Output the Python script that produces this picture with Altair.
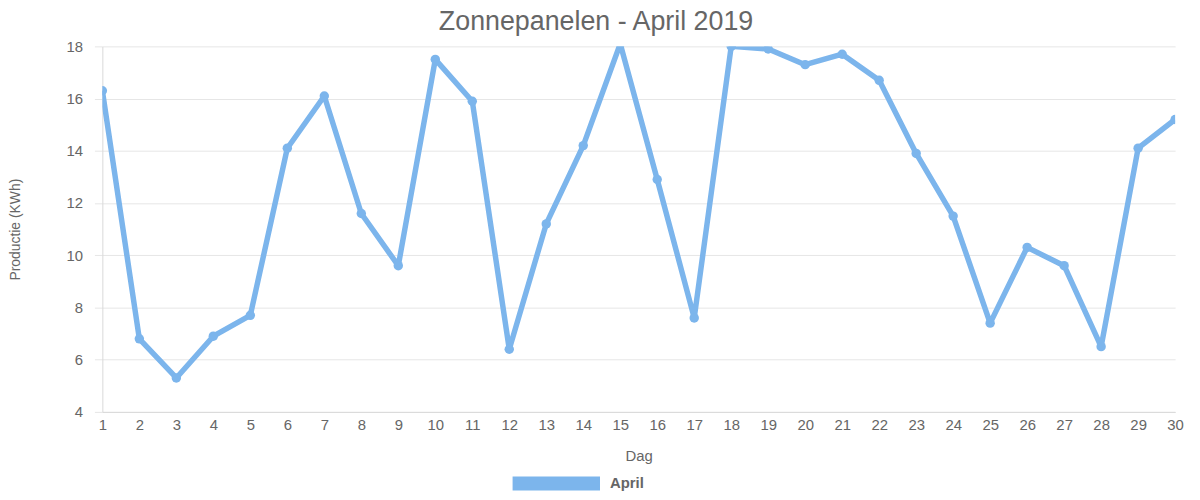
import altair as alt
import pandas as pd

days = list(range(1, 31))
production = [16.3, 6.8, 5.3, 6.9, 7.7, 14.1, 16.1, 11.6, 9.6, 17.5,
              15.9, 6.4, 11.2, 14.2, 18.1, 12.9, 7.6, 18.0, 17.9, 17.3,
              17.7, 16.7, 13.9, 11.5, 7.4, 10.3, 9.6, 6.5, 14.1, 15.2]
series = ["April"] * 30

df = pd.DataFrame({"Dag": days, "Productie": production, "Serie": series})

COLOR = "#7cb5ec"
GREY = "#666666"

x = alt.X("Dag:Q",
          scale=alt.Scale(domain=[1, 30], nice=False, zero=False),
          axis=alt.Axis(values=days, title="Dag", grid=False, labelFontSize=15,
                        labelColor=GREY, titleColor=GREY, titleFontSize=15,
                        titleFontWeight="normal", labelPadding=6, titlePadding=16,
                        tickSize=0, domainColor="#d9d9d9", labelFlush=False,
                        labelFont="Liberation Sans", titleFont="Liberation Sans"))
y = alt.Y("Productie:Q",
          scale=alt.Scale(domain=[4, 18], nice=False, zero=False),
          axis=alt.Axis(values=[4, 6, 8, 10, 12, 14, 16, 18], title="Productie (KWh)",
                        labelFontSize=15, labelColor=GREY, titleColor=GREY,
                        titleFontSize=14, titleFontWeight="normal", gridColor="#e6e6e6",
                        tickColor="#e6e6e6", tickSize=8, domainColor="#d9d9d9",
                        labelPadding=12, titlePadding=44, labelFlush=False,
                        labelFont="Liberation Sans", titleFont="Liberation Sans"))

color = alt.Color("Serie:N", scale=alt.Scale(range=[COLOR]),
                  legend=alt.Legend(title=None, orient="none", legendX=413, legendY=396,
                                    symbolType="M-1,-0.16H1V0.16H-1Z", symbolSize=7744,
                                    symbolFillColor=COLOR, symbolStrokeWidth=0,
                                    labelFontSize=15, labelFontWeight="bold",
                                    labelColor=GREY, labelOffset=10, padding=0,
                                    labelFont="Liberation Sans"))

line = alt.Chart(df).mark_line(strokeWidth=5.5, clip=True, strokeJoin="round").encode(
    x=x, y=y, color=color)
points = alt.Chart(df).mark_point(filled=True, size=90, opacity=1, clip=True).encode(
    x=x, y=y, color=alt.Color("Serie:N", scale=alt.Scale(range=[COLOR]), legend=None))

chart = alt.layer(line, points).properties(
    width=1080, height=368,
    padding={"left": 95, "top": 37, "right": 17, "bottom": 80},
    autosize=alt.AutoSizeParams(type="none"),
    title=alt.Title("Zonnepanelen - April 2019", fontSize=27, fontWeight="normal",
                    color=GREY, font="Liberation Sans", anchor="middle", dx=-43, offset=3),
).configure_view(stroke=None)

chart.save("out.html", embed_options={"renderer": "svg", "actions": False})
